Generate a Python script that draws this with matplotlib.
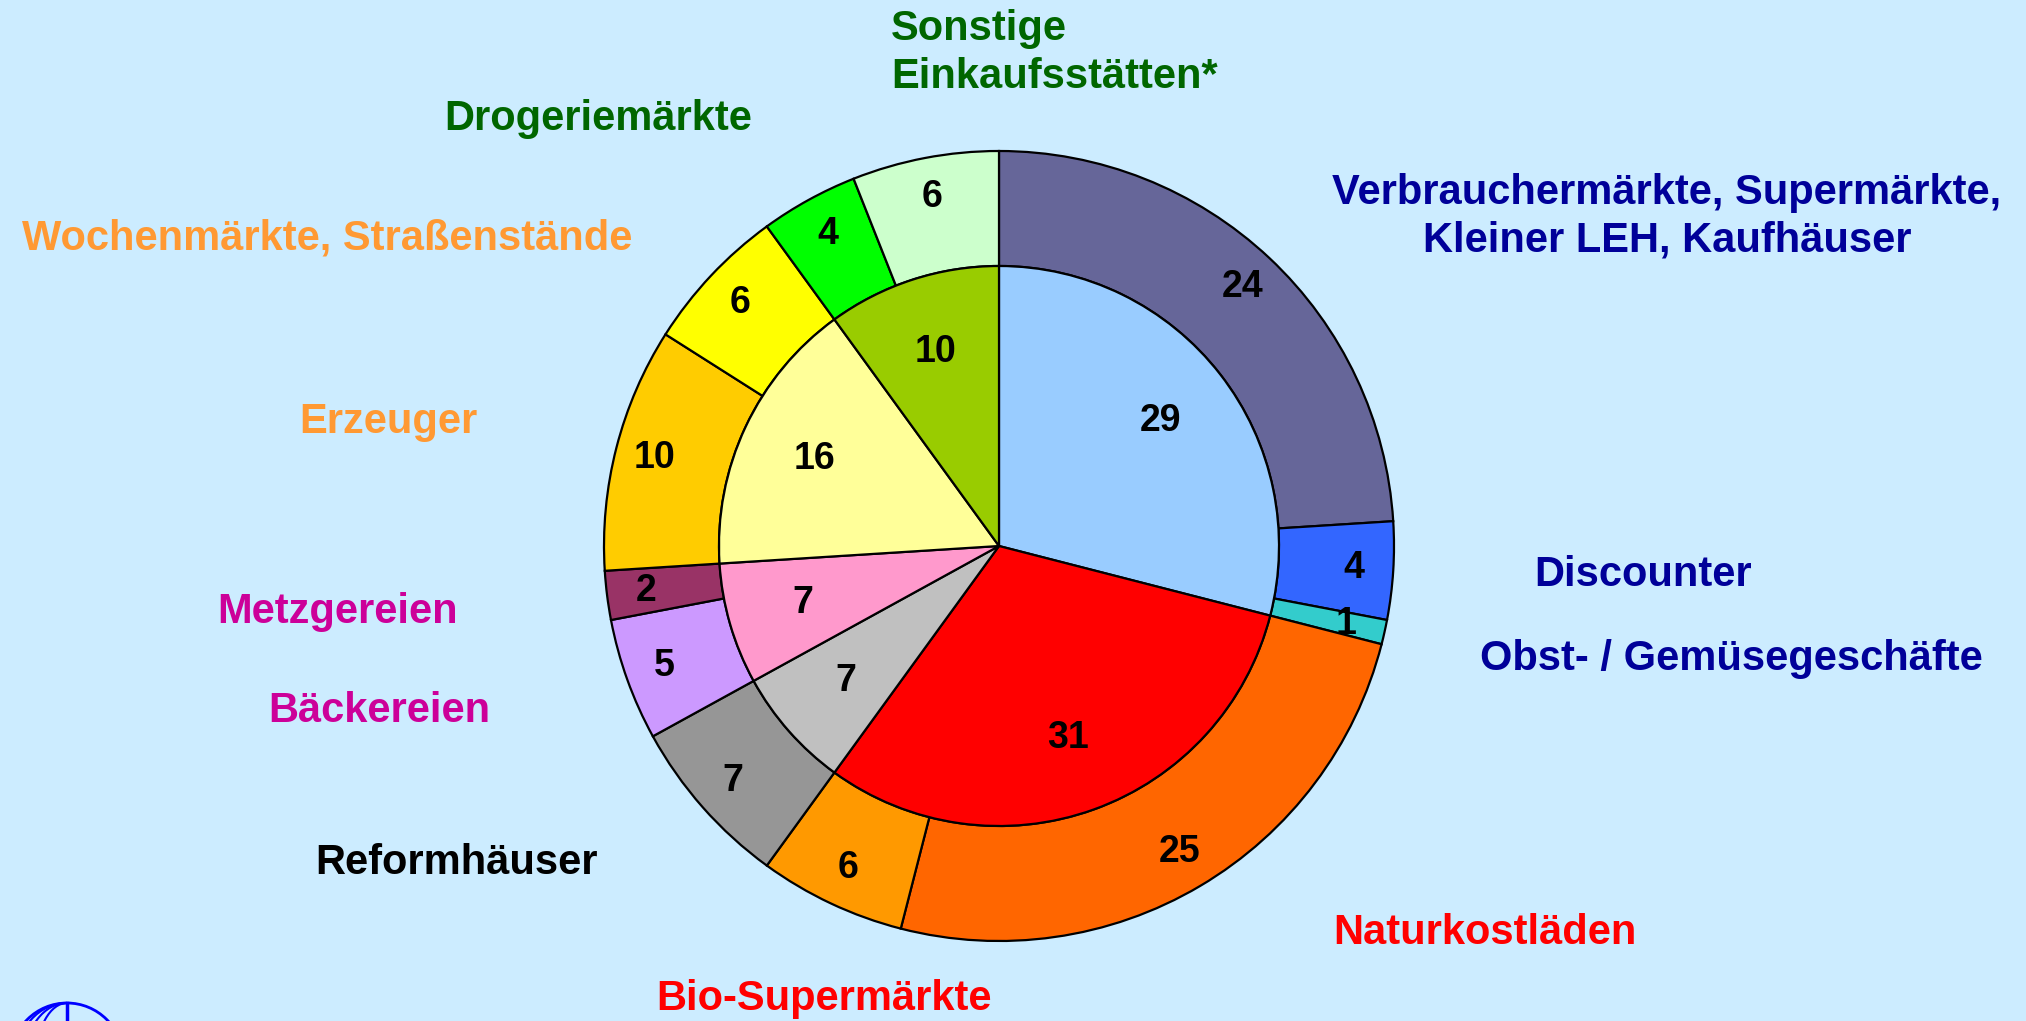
import matplotlib

matplotlib.use("Agg")
import matplotlib.pyplot as plt
from matplotlib.patches import Arc, Circle

BG = "#CCECFF"

# outer ring: individual shop types, clockwise from 12 o'clock
outer_names = ["Verbrauchermärkte, Supermärkte,\nKleiner LEH, Kaufhäuser", "Discounter",
               "Obst- / Gemüsegeschäfte", "Naturkostläden", "Bio-Supermärkte", "Reformhäuser",
               "Bäckereien", "Metzgereien", "Erzeuger", "Wochenmärkte, Straßenstände",
               "Drogeriemärkte", "Sonstige\nEinkaufsstätten*"]
outer_vals = [24, 4, 1, 25, 6, 7, 5, 2, 10, 6, 4, 6]
outer_cols = ["#666699", "#3366FF", "#33CCCC", "#FF6600", "#FF9900", "#969696",
              "#CC99FF", "#993366", "#FFCC00", "#FFFF00", "#00FF00", "#CCFFCC"]

# inner ring: grouped shop types
inner_vals = [29, 31, 7, 7, 16, 10]
inner_cols = ["#99CCFF", "#FF0000", "#C0C0C0", "#FF99CC", "#FFFF99", "#99CC00"]

# label colour per outer segment
label_cols = ["#000099", "#000099", "#000099", "#FF0000", "#FF0000", "#000000",
              "#CC0099", "#CC0099", "#FF9933", "#FF9933", "#006600", "#006600"]

W, H = 2026, 1021
CX, CY = 999, H - 546
R_OUT, R_IN = 395, 280

plt.rcParams["font.family"] = ["Liberation Sans Narrow", "Liberation Sans", "DejaVu Sans"]

fig = plt.figure(figsize=(W / 100, H / 100), dpi=100, facecolor=BG)
ax = fig.add_axes([0, 0, 1, 1])
ax.set_facecolor(BG)

num_kw = dict(fontsize=27, fontweight="bold", color="black")
wp = dict(edgecolor="black", linewidth=1.6)

ax.pie(outer_vals, colors=outer_cols, radius=R_OUT, center=(CX, CY), startangle=90,
       counterclock=False, wedgeprops=dict(width=R_OUT - R_IN, **wp),
       autopct=lambda p: f"{p:.0f}", pctdistance=0.9, textprops=num_kw)
ax.pie(inner_vals, colors=inner_cols, radius=R_IN, center=(CX, CY), startangle=90,
       counterclock=False, wedgeprops=wp,
       autopct=lambda p: f"{p:.0f}", pctdistance=0.73, textprops=num_kw)

# category labels (x, y in pixels from the top-left, alignment)
label_pos = [(1667, 217, "center"), (1643, 575, "center"), (1731, 659, "center"),
             (1485, 933, "center"), (824, 999, "center"), (456, 863, "center"),
             (379, 711, "center"), (338, 612, "center"), (388, 422, "center"),
             (327, 239, "center"), (598, 119, "center"), (891, 53, "left")]
for name, col, (x, y, ha) in zip(outer_names, label_cols, label_pos):
    ax.text(x, H - y, name, color=col, fontsize=30, fontweight="bold",
            ha=ha, va="center", linespacing=1.25)

# globe logo peeking in at the bottom-left corner
gx, gy, gr = 67, H - 1059, 56
ax.add_patch(Circle((gx, gy), gr, fill=False, color="#0000FF", lw=2))
ax.plot([gx, gx], [gy, gy + gr], color="#0000FF", lw=2.5)
for w in (0.55, 0.75, 0.9):
    ax.add_patch(Arc((gx, gy), 2 * gr * w, 2 * gr, theta1=90, theta2=180,
                     color="#0000FF", lw=1.5))

ax.set_xlim(0, W)
ax.set_ylim(0, H)
ax.set_aspect("equal")
ax.axis("off")

fig.savefig("out.png", dpi=100, facecolor=BG)
